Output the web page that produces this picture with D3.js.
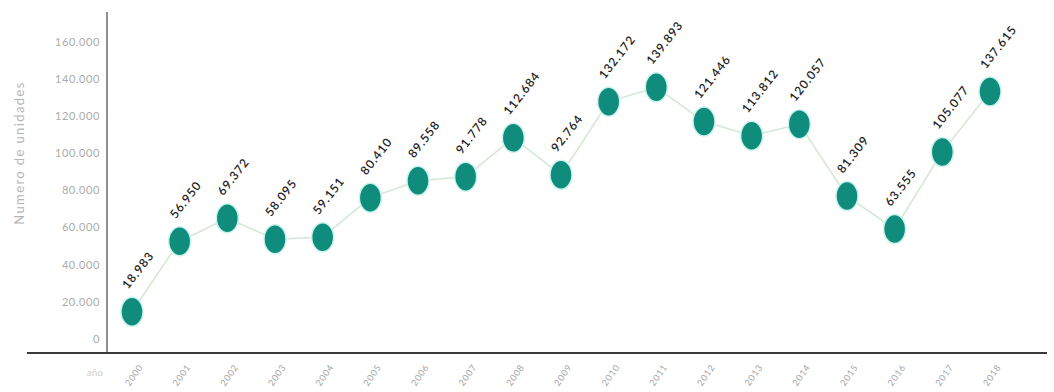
<!DOCTYPE html>
<html>
<head>
<meta charset="utf-8">
<script src="https://cdn.jsdelivr.net/npm/d3@7"></script>
<style>
	body { margin: 0; background: #fff; }
	svg { display: block; font-family: Lato, 'Open Sans', sans-serif; }
</style>
</head>
<body>
<svg id="canvas"></svg>
<script>
const years = ['2000', '2001', '2002', '2003', '2004', '2005', '2006', '2007', '2008', '2009',
	'2010', '2011', '2012', '2013', '2014', '2015', '2016', '2017', '2018'];
const units = [18983, 56950, 69372, 58095, 59151, 80410, 89558, 91778, 112684, 92764,
	132172, 139893, 121446, 113812, 120057, 81309, 63555, 105077, 137615];
const yTicks = [0, 20000, 40000, 60000, 80000, 100000, 120000, 140000, 160000];
const yTitle = 'Numero de unidades';
const xTitle = 'año';

const width = 1054;
const height = 392;

const canvas = d3.select('#canvas').attr('width', width).attr('height', height);

// thousands with a dot, like the original
const fmt = (v) => d3.format(',')(v).replace(/,/g, '.');

const x = d3.scalePoint().domain(years).range([132, 990]);
const y = d3.scaleLinear().domain([0, 160000]).range([347, 50]);

// axis lines
canvas.append('line')
	.attr('x1', 107).attr('x2', 107)
	.attr('y1', 12).attr('y2', 353)
	.attr('stroke', '#555').attr('stroke-width', 1.3);
canvas.append('line')
	.attr('x1', 27).attr('x2', 1047)
	.attr('y1', 353).attr('y2', 353)
	.attr('stroke', '#3a3a3a').attr('stroke-width', 2);

// y ticks (labels only, sit a bit above their value)
canvas.selectAll('.ytick')
	.data(yTicks)
	.enter()
	.append('text')
	.attr('class', 'ytick')
	.attr('x', 100)
	.attr('y', (d) => y(d) - 8)
	.attr('dy', '0.35em')
	.attr('text-anchor', 'end')
	.attr('font-size', 11)
	.attr('letter-spacing', 0.6)
	.attr('fill', '#ababab')
	.text((d) => fmt(d));

canvas.append('text')
	.attr('transform', 'translate(24, 153) rotate(-90)')
	.attr('text-anchor', 'middle')
	.attr('font-size', 13)
	.attr('letter-spacing', 1.4)
	.attr('fill', '#b5b5b5')
	.text(yTitle);

// x tick labels, slanted
canvas.selectAll('.xtick')
	.data(years)
	.enter()
	.append('text')
	.attr('class', 'xtick')
	.attr('transform', (d) => `translate(${x(d) + 2}, 375) rotate(-55)`)
	.attr('text-anchor', 'middle')
	.attr('dy', '0.35em')
	.attr('font-size', 9)
	.attr('letter-spacing', 0.8)
	.attr('fill', '#a5a5a5')
	.text((d) => d);

canvas.append('text')
	.attr('x', 103)
	.attr('y', 376)
	.attr('text-anchor', 'end')
	.attr('font-size', 10)
	.attr('fill', '#d0d0d0')
	.text(xTitle);

const points = years.map((yr, i) => ({ year: yr, value: units[i] }));

const line = d3.line()
	.x((d) => x(d.year))
	.y((d) => y(d.value));

canvas.append('path')
	.datum(points)
	.attr('d', line)
	.attr('fill', 'none')
	.attr('stroke', '#d4e8d6')
	.attr('stroke-width', 1.6);

canvas.selectAll('.dot')
	.data(points)
	.enter()
	.append('ellipse')
	.attr('class', 'dot')
	.attr('cx', (d) => x(d.year))
	.attr('cy', (d) => y(d.value))
	.attr('rx', 11)
	.attr('ry', 14.5)
	.attr('fill', '#0f8c7b')
	.attr('stroke', '#c9f3ee')
	.attr('stroke-width', 1.5);

canvas.selectAll('.val')
	.data(points)
	.enter()
	.append('text')
	.attr('class', 'val')
	.attr('transform', (d) => `translate(${x(d.year) - 4}, ${y(d.value) - 22}) rotate(-52)`)
	.attr('font-size', 12)
	.attr('font-weight', 600)
	.attr('letter-spacing', 0.9)
	.attr('fill', '#222')
	.text((d) => fmt(d.value));
</script>
</body>
</html>
